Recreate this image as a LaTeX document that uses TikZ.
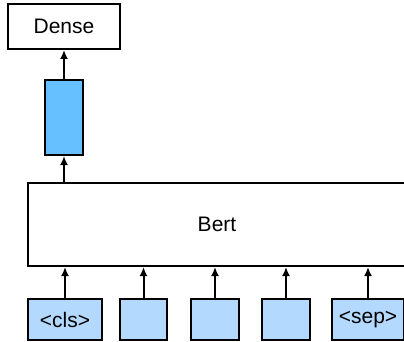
\documentclass[tikz,border=0pt]{standalone}
\usepackage{fontspec}
\setmainfont{Liberation Sans}
\usetikzlibrary{arrows.meta}
\definecolor{tokblue}{RGB}{179,217,255}
\definecolor{outblue}{RGB}{102,191,255}
\tikzset{
	blk/.style={draw=black, line width=2pt, inner sep=0pt, font=\fontsize{21}{25}\selectfont},
	tok/.style={blk, fill=tokblue, minimum height=41pt},
	up/.style={line width=2pt, -{Latex[length=9pt,width=8pt]}}
}

\begin{document}
\begin{tikzpicture}[x=1pt, y=-1pt]
			%%%%% START %%%%%
			\useasboundingbox (0, 0) rectangle (404, 342);
			\clip (0, 0) rectangle (404, 342);
			
			\node[blk, fill=white, minimum width=112pt, minimum height=45pt] (dense) at (64, 26.5) {Dense};
			\node[blk, fill=outblue, minimum width=38pt, minimum height=75pt] (cls out) at (64, 117.5) {};
			\node[blk, fill=white, minimum width=378pt, minimum height=83pt] (bert) at (217, 224.5) {Bert};
			
			\node[tok, minimum width=74pt] (t1) at (65, 319.5) {<cls>};
			\node[tok, minimum width=47pt] (t2) at (143.5, 319.5) {};
			\node[tok, minimum width=48pt] (t3) at (215, 319.5) {};
			\node[tok, minimum width=48pt] (t4) at (286, 319.5) {};
			\node[tok, minimum width=72pt] (t5) at (368, 319.5) {<sep>};
			
			\foreach \t in {t1, t2, t3, t4, t5}
				\draw[up] (\t.north) -- (\t.north |- bert.south);
			
			\draw[up] (bert.north -| cls out.south) -- (cls out.south);
			\draw[up] (cls out.north) -- (cls out.north -| dense.south) -- (dense.south);
			%%%%% END %%%%%
\end{tikzpicture}
\end{document}
